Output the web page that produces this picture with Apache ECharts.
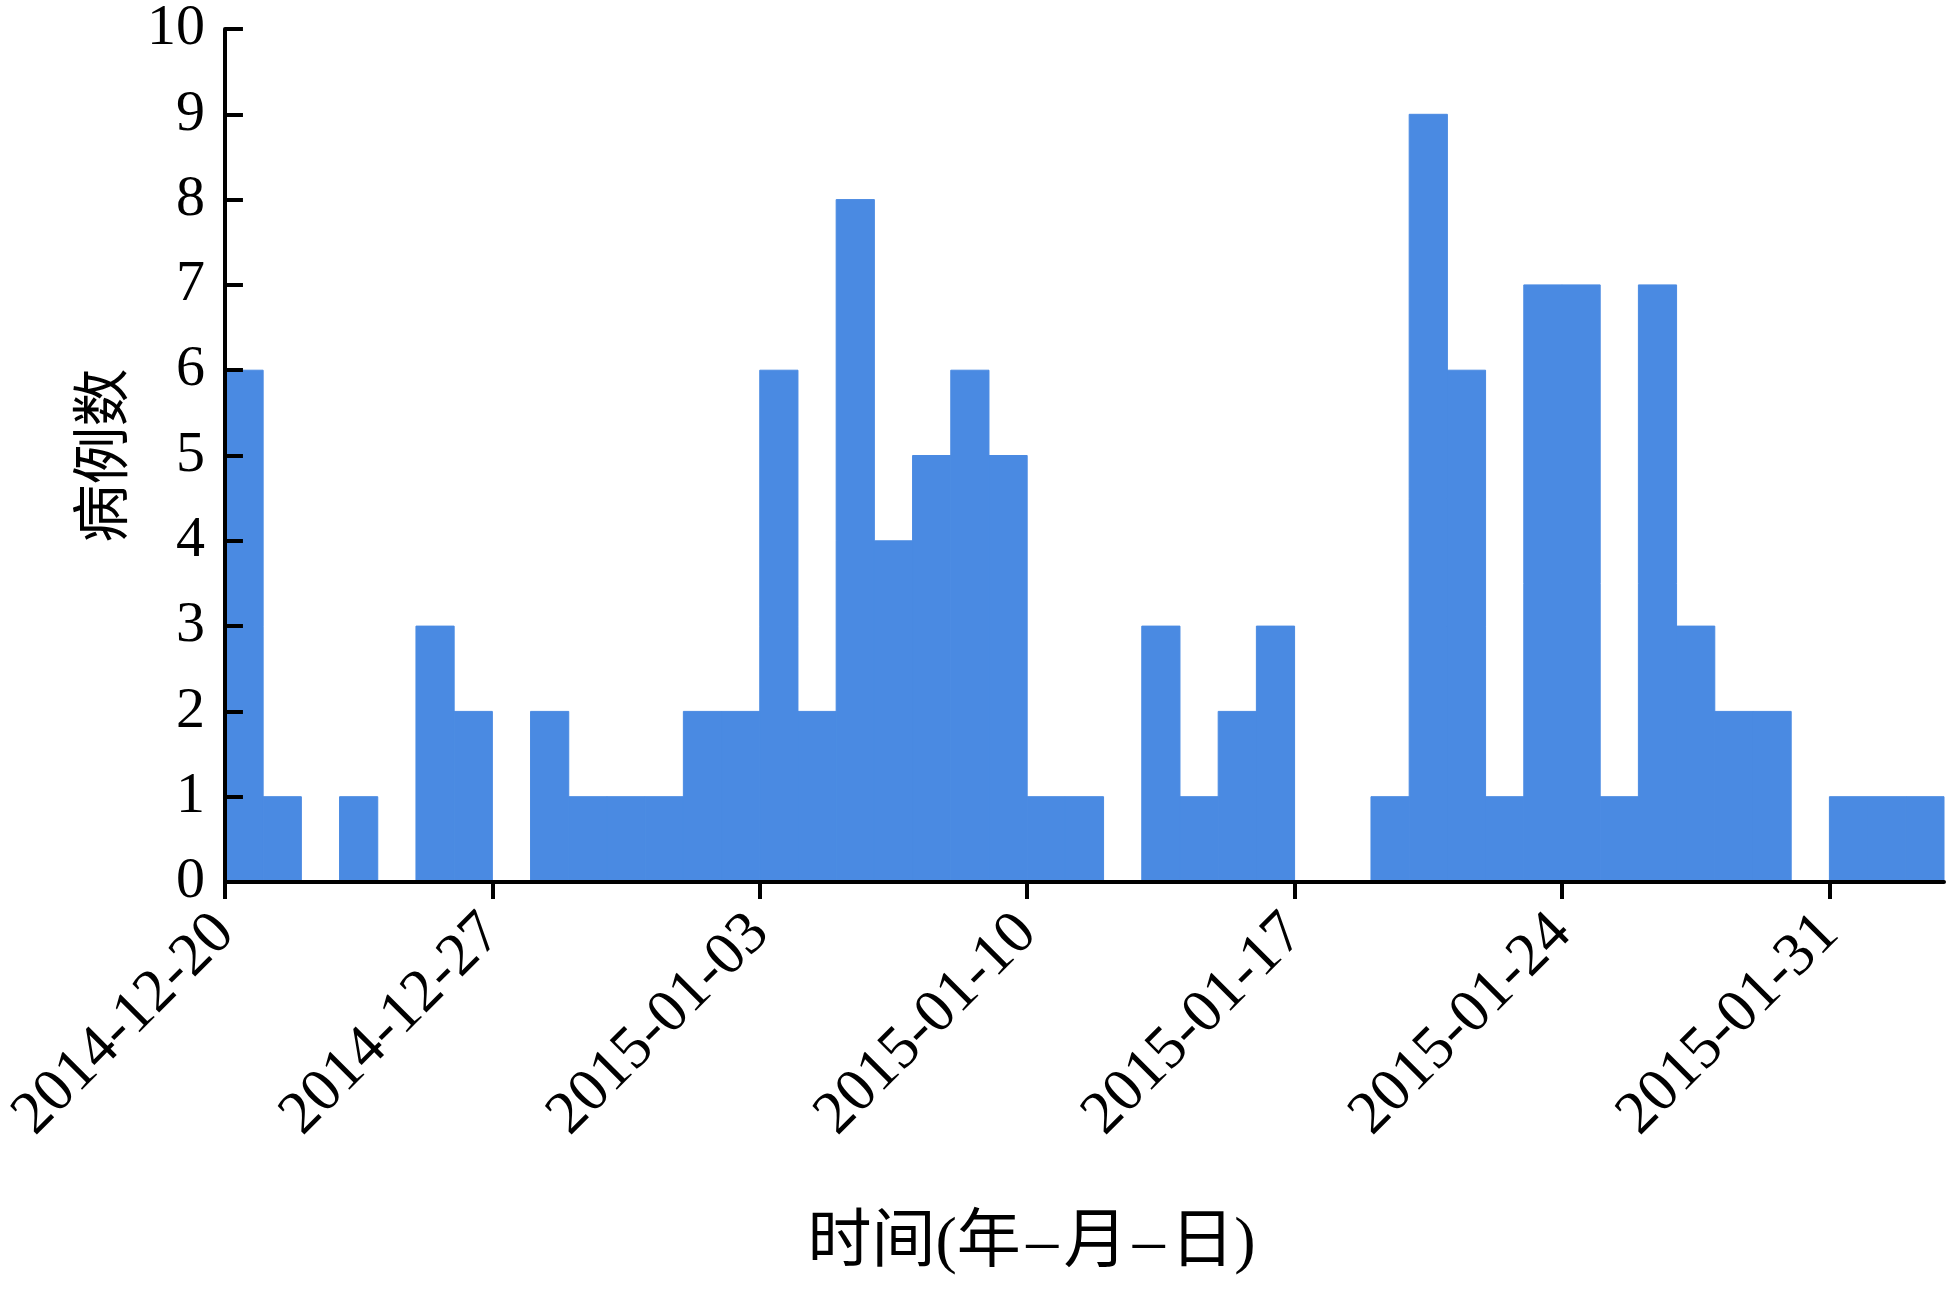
<!DOCTYPE html>
<html>
<head>
<meta charset="utf-8">
<script src="https://cdn.jsdelivr.net/npm/echarts@6/dist/echarts.min.js"></script>
<style>html,body{margin:0;padding:0;background:#fff}#c{width:1946px;height:1292px}</style>
</head>
<body>
<div id="c"></div>
<script>
var dates = ['2014-12-20','2014-12-21','2014-12-22','2014-12-23','2014-12-24','2014-12-25','2014-12-26',
  '2014-12-27','2014-12-28','2014-12-29','2014-12-30','2014-12-31','2015-01-01','2015-01-02',
  '2015-01-03','2015-01-04','2015-01-05','2015-01-06','2015-01-07','2015-01-08','2015-01-09',
  '2015-01-10','2015-01-11','2015-01-12','2015-01-13','2015-01-14','2015-01-15','2015-01-16',
  '2015-01-17','2015-01-18','2015-01-19','2015-01-20','2015-01-21','2015-01-22','2015-01-23',
  '2015-01-24','2015-01-25','2015-01-26','2015-01-27','2015-01-28','2015-01-29','2015-01-30',
  '2015-01-31','2015-02-01','2015-02-02'];
var counts = [6,1,0,1,0,3,2, 0,2,1,1,1,2,2, 6,2,8,4,5,6,5, 1,1,0,3,1,2,3, 0,0,1,9,6,1,7, 7,1,7,3,2,2,0, 1,1,1];
var tickLabels = ['2014-12-20','2014-12-27','2015-01-03','2015-01-10','2015-01-17','2015-01-24','2015-01-31'];
var yTicks = [0,1,2,3,4,5,6,7,8,9,10];

var tickPos = tickLabels.map(function(d){ return dates.indexOf(d); });
var barData = counts.map(function(v, i){ return [i, v]; });

var chart = echarts.init(document.getElementById('c'));
var serif = '"Liberation Serif","Times New Roman",serif';
var cjk = '"Liberation Serif","Noto Sans CJK SC",serif';
var barColor = '#4a8ae2';
chart.setOption({
  animation: false,
  grid: {left: 223, right: 2, top: 28, bottom: 410},
  xAxis: {
    type: 'value', min: 0, max: dates.length, z: 5,
    name: '时间(年\u200A–\u200A月\u200A–\u200A日)', nameLocation: 'middle', nameGap: 330,
    nameTextStyle: {fontFamily: cjk, fontSize: 64, color: '#000', padding: [0, 106, 0, 0]},
    axisLine: {lineStyle: {color: '#000', width: 4}},
    axisTick: {show: true, inside: false, length: 17, lineStyle: {color: '#000', width: 4}, customValues: tickPos},
    axisLabel: {customValues: tickPos, rotate: 45, margin: 42, fontFamily: serif, fontSize: 61, color: '#000',
      formatter: function(v){ return dates[v] || ''; }},
    splitLine: {show: false}
  },
  yAxis: {
    type: 'value', min: 0, max: 10, interval: 1, z: 5,
    name: '病例数', nameLocation: 'middle', nameRotate: 90, nameGap: 88,
    nameTextStyle: {fontFamily: cjk, fontSize: 58, color: '#000'},
    axisLine: {show: true, lineStyle: {color: '#000', width: 4}},
    axisTick: {show: true, inside: true, length: 18, lineStyle: {color: '#000', width: 4}},
    axisLabel: {margin: 20, fontFamily: serif, fontSize: 58, color: '#000',
      formatter: function(v){ return yTicks.indexOf(v) >= 0 ? String(v) : ''; }},
    splitLine: {show: false}
  },
  series: [{
    type: 'custom',
    data: barData,
    encode: {x: 0, y: 1},
    renderItem: function(params, api){
      var x = api.value(0), y = api.value(1);
      if (!y) return null;
      var p1 = api.coord([x, y]);
      var p2 = api.coord([x + 1, 0]);
      return {type: 'rect', shape: {x: p1[0], y: p1[1], width: p2[0] - p1[0], height: p2[1] - p1[1]},
        style: {fill: barColor, stroke: barColor, lineWidth: 1}};
    },
    z: 1
  }]
});
</script>
</body>
</html>
